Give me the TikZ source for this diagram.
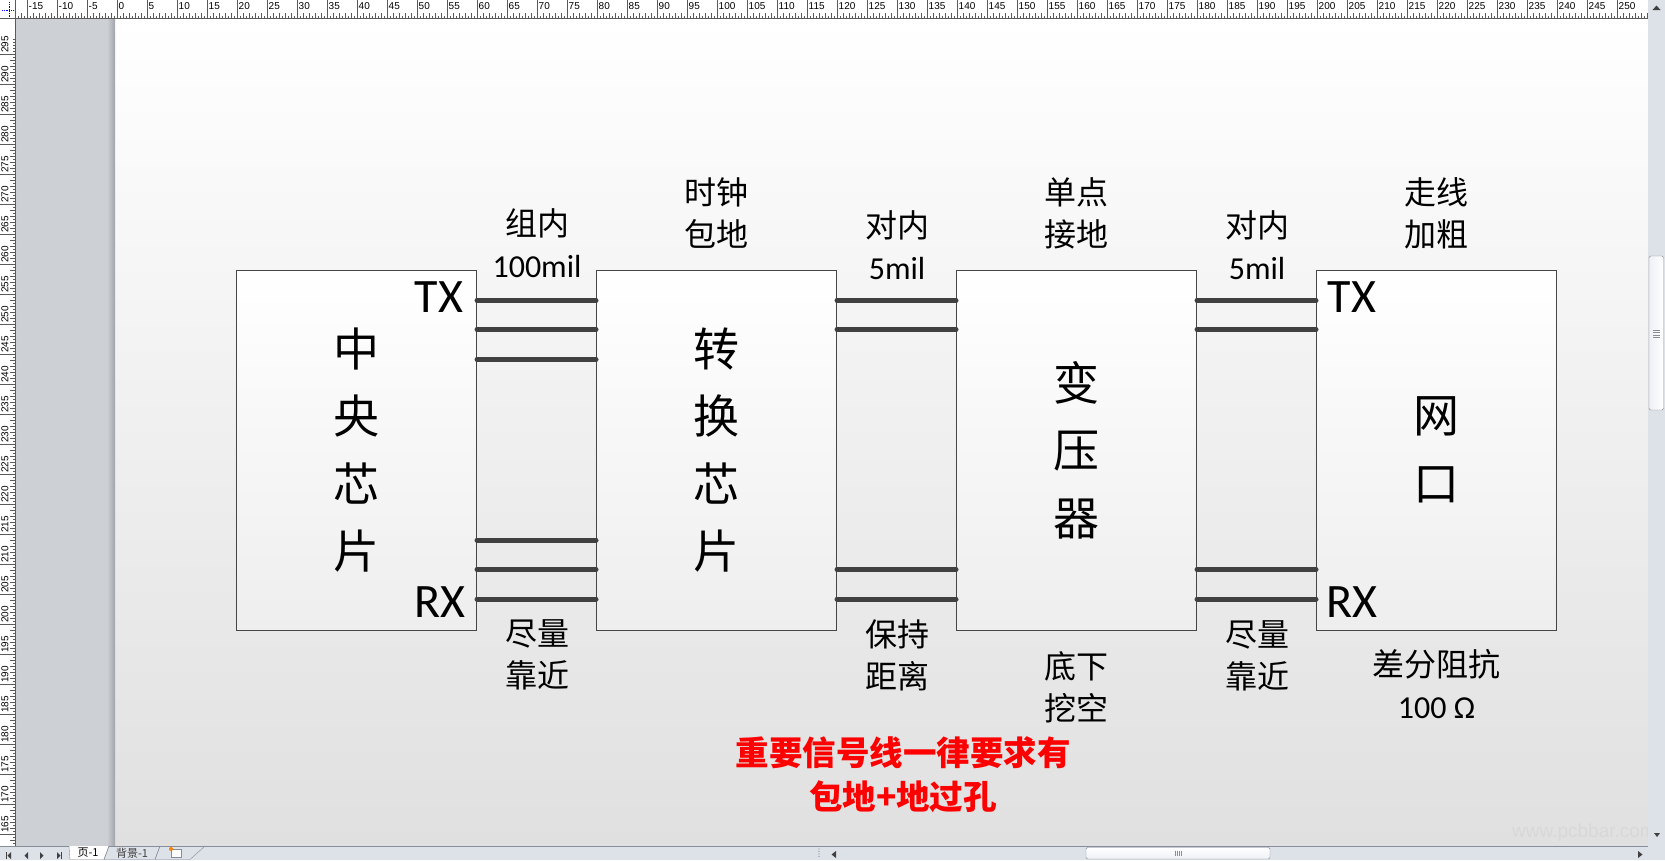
\documentclass[tikz,border=0pt]{standalone}
\usepackage{fontspec}
\setmainfont{Carlito}
\newfontfamily\cjk{Noto Sans CJK SC}
\newfontfamily\rulerfont{Liberation Sans}
\usetikzlibrary{calc}
\definecolor{linegray}{RGB}{64,64,64}
\definecolor{boxline}{RGB}{70,70,70}
\definecolor{pagebot}{RGB}{224,224,224}
\definecolor{boxbot}{RGB}{238,238,238}
\definecolor{side}{RGB}{205,208,213}
\definecolor{sidedark}{RGB}{160,163,168}
\definecolor{chrome}{RGB}{221,225,232}
\definecolor{tickgray}{RGB}{90,90,90}
\definecolor{thumbline}{RGB}{135,140,150}
\definecolor{thumbfill}{RGB}{238,240,244}
\definecolor{wmark}{RGB}{216,216,216}
\definecolor{rednote}{RGB}{255,0,0}
\begin{document}
\begin{tikzpicture}[x=1pt,y=-1pt,
  box/.style={draw=boxline, line width=1pt, top color=white, bottom color=boxbot,
    minimum width=240pt, minimum height=360pt, inner sep=0pt},
  wire/.style={line width=5pt, draw=linegray, line cap=round},
  big/.style={font=\cjk\fontsize{46}{67.5}\selectfont, align=center, inner sep=0pt},
  lbl/.style={font=\fontsize{32}{42}\selectfont, align=center, inner sep=0pt},
  port/.style={font=\fontsize{48}{48}\selectfont, inner sep=0pt},
  note/.style={font=\cjk\bfseries\fontsize{33.5}{44}\selectfont, text=rednote, align=center, inner sep=0pt},
  tk/.style={draw=tickgray, line width=0.7pt},
  rnum/.style={font=\rulerfont\fontsize{10}{10}\selectfont, inner sep=0pt, text=black},
  tri/.style={fill=linegray, draw=none}
]
\useasboundingbox (0,0) rectangle (1665,860);
% ---------- window chrome ----------
\shade[top color=white, bottom color=pagebot] (115,19) rectangle (1648,846);
\fill[side] (16,19) rectangle (115,846);
\shade[left color=side, right color=sidedark] (107,19) rectangle (115,846);
% top ruler
\fill[white] (0,0) rectangle (1648,19);
\foreach \k in {-33,-31,...,509} \draw[tk] ({117.5+3*\k},19) -- ({117.5+3*\k},16);
\foreach \k in {-32,-30,...,510} \draw[tk] ({117.5+3*\k},19) -- ({117.5+3*\k},13);
\foreach \v in {-15,-10,...,250} {
  \draw[tk] ({117.5+6*\v},19) -- ({117.5+6*\v},0);
  \node[rnum, anchor=west] (rt\v) at ({118.5+6*\v},6.5) {\v};
}
\draw[tickgray, line width=1pt] (16,18.5) -- (1648,18.5);
% left ruler
\fill[white] (0,19) rectangle (16,846);
\foreach \k in {0,...,263} \draw[tk] (16,{54+3*\k}) -- (13,{54+3*\k});
\foreach \k in {0,2,...,262} \draw[tk] (16,{54+3*\k}) -- (10,{54+3*\k});
\foreach \v in {165,170,...,295} {
  \draw[tk] (16,{54+6*(295-\v)}) -- (0,{54+6*(295-\v)});
  \node[rnum, rotate=90, anchor=west] (rl\v) at (5,{53+6*(295-\v)}) {\v};
}
\foreach \k in {1,...,5} \draw[tk] (16,{54-3*\k}) -- (13,{54-3*\k});
\draw[tickgray, line width=1pt] (15.5,19) -- (15.5,846);
% corner
\fill[white] (0,0) rectangle (16,19);
\draw[blue, densely dotted, line width=0.8pt] (2,10) -- (15,10) (9,2) -- (9,18);
\draw[tickgray, line width=1pt] (0,18.5) -- (16,18.5) (15.5,0) -- (15.5,19);
% vertical scrollbar
\fill[chrome] (1648,0) rectangle (1665,846);
\fill[linegray] (1652.5,10) -- (1660.5,10) -- (1656.5,5.5) -- cycle;
\draw[thumbline, rounded corners=1.5pt, left color=thumbfill, right color=white] (1649,256) rectangle (1663.5,410);
\foreach \yy in {330,332.5,335,337.5} \draw[thumbline, line width=0.6pt] (1653,\yy) -- (1660,\yy);
% status bar
\fill[chrome] (0,846) rectangle (1648,860);
\fill[chrome] (1648,846) rectangle (1665,860);
\draw[thumbline, line width=0.8pt] (0,846) -- (1648,846);
\fill[linegray] (6,852) rectangle (7.2,859);
\fill[linegray] (11,852) -- (11,859) -- (7.5,855.5) -- cycle;
\fill[linegray] (28,852) -- (28,859) -- (24.5,855.5) -- cycle;
\fill[linegray] (40,852) -- (40,859) -- (43.5,855.5) -- cycle;
\fill[linegray] (57,852) -- (57,859) -- (60.5,855.5) -- cycle;
\fill[linegray] (61,852) rectangle (62.2,859);
\draw[thumbline, fill=white] (69,846) -- (70,859.5) -- (104,859.5) -- (109,846);
\node[font=\cjk\fontsize{11}{11}\selectfont, inner sep=0pt] (tab1) at (88,853) {页-1};
\draw[thumbline] (109,846) -- (104,859.5) -- (155,859.5) -- (160,846);
\node[font=\cjk\fontsize{11}{11}\selectfont, text=darkgray, inner sep=0pt] (tab2) at (132,853) {背景-1};
\draw[thumbline] (160,846) -- (155,859.5) -- (190,859.5) -- (205,846);
\draw[thumbline, fill=white] (171,849) rectangle (181,857);
\fill[orange] (171,849) circle (2pt);
% horizontal scrollbar
\foreach \yy in {849,851.5,854,856.5} \fill[thumbline] (819,\yy) circle (0.6pt);
\fill[linegray] (836,851) -- (836,858) -- (831.5,854.5) -- cycle;
\draw[thumbline, rounded corners=1.5pt, top color=white, bottom color=thumbfill] (1086,847.5) rectangle (1270,859);
\foreach \xx in {1175,1177,1179,1181} \draw[thumbline, line width=0.6pt] (\xx,850.5) -- (\xx,856);
\fill[linegray] (1638,851) -- (1638,858) -- (1642.5,854.5) -- cycle;
% watermark
\node[font=\rulerfont\fontsize{19}{19}\selectfont, text=wmark, anchor=west, inner sep=0pt] (wm) at (1512,833) {www.pcbbar.com};
\fill[chrome] (1648,812) rectangle (1665,846);
\fill[linegray] (1654,833) -- (1660,833) -- (1657,837) -- cycle;
% ---------- diagram ----------
\node[box] (b1) at (356.5,450) {};
\node[box] (b2) at (716.5,450) {};
\node[box] (b3) at (1076.5,450) {};
\node[box] (b4) at (1436.5,450) {};
% wires
\foreach \yy in {300.5,329.5,359.5,540,569.5,599} \draw[wire] (b1.east |- 0,\yy) -- (b2.west |- 0,\yy);
\foreach \yy in {300.5,329.5,569.5,599} {
  \draw[wire] (b2.east |- 0,\yy) -- (b3.west |- 0,\yy);
  \draw[wire] (b3.east |- 0,\yy) -- (b4.west |- 0,\yy);
}
% box titles
\node[big] (t1) at (b1.center) {中\\央\\芯\\片};
\node[big] (t2) at (b2.center) {转\\换\\芯\\片};
\node[big] (t3) at (b3.center) {变\\压\\器};
\node[big] (t4) at (b4.center) {网\\口};
% ports
\node[port] (tx1) at (439,297) {TX};
\node[port] (rx1) at (440,602) {RX};
\node[port] (tx4) at (1352,297) {TX};
\node[port] (rx4) at (1352,602) {RX};
% top labels
\node[lbl] (l1) at (537,243) {{\cjk 组内}\\100mil};
\node[lbl] (l2) at (716.5,213) {{\cjk 时钟}\\{\cjk 包地}};
\node[lbl] (l3) at (897,245) {{\cjk 对内}\\5mil};
\node[lbl] (l4) at (1076.5,213) {{\cjk 单点}\\{\cjk 接地}};
\node[lbl] (l5) at (1257,245) {{\cjk 对内}\\5mil};
\node[lbl] (l6) at (1436.5,213) {{\cjk 走线}\\{\cjk 加粗}};
% bottom labels
\node[lbl] (m1) at (537,655) {{\cjk 尽量}\\{\cjk 靠近}};
\node[lbl] (m2) at (897,655) {{\cjk 保持}\\{\cjk 距离}};
\node[lbl] (m3) at (1076.5,687) {{\cjk 底下}\\{\cjk 挖空}};
\node[lbl] (m4) at (1257,656) {{\cjk 尽量}\\{\cjk 靠近}};
\node[lbl] (m5) at (1436.5,684) {{\cjk 差分阻抗}\\100 Ω};
% note
\node[note] (n1) at (903,775) {重要信号线一律要求有\\包地+地过孔};
\end{tikzpicture}
\end{document}
